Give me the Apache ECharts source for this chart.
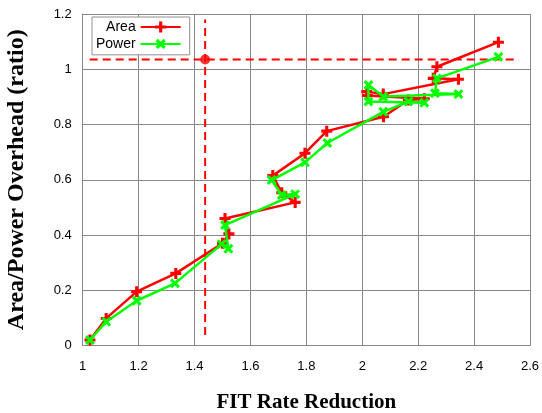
<!DOCTYPE html>
<html>
<head>
<meta charset="utf-8">
<script src="https://cdn.jsdelivr.net/npm/echarts@6/dist/echarts.min.js"></script>
<style>
  html, body { margin: 0; padding: 0; background: #fff; }
  #chart { width: 542px; height: 413px; }
</style>
</head>
<body>
<div id="chart"></div>
<script>
// FIT rate reduction vs. overhead ratio, one point per design configuration
const fitArea = [1.026, 1.084, 1.193, 1.333, 1.500, 1.523, 1.509, 1.760, 1.712, 1.680, 1.795, 1.873,
                 2.076, 2.165, 2.222, 2.018, 2.016, 2.075, 2.344, 2.254, 2.267, 2.487];
const areaOverhead = [0.020, 0.098, 0.195, 0.261, 0.370, 0.404, 0.460, 0.518, 0.553, 0.615, 0.696, 0.776,
                      0.828, 0.889, 0.893, 0.905, 0.919, 0.910, 0.964, 0.967, 1.009, 1.098];

const fitPower = [1.026, 1.084, 1.193, 1.330, 1.497, 1.521, 1.509, 1.760, 1.712, 1.676, 1.795, 1.875,
                  2.075, 2.165, 2.222, 2.022, 2.022, 2.075, 2.344, 2.260, 2.267, 2.487];
const powerOverhead = [0.020, 0.086, 0.162, 0.225, 0.367, 0.350, 0.436, 0.548, 0.545, 0.599, 0.663, 0.733,
                       0.846, 0.883, 0.879, 0.883, 0.943, 0.901, 0.910, 0.913, 0.967, 1.045];

// Reference operating point and the extent of its dashed guide lines
const refPoint = [1.438, 1.035];
const refVerticalSpan = [0.038, 1.18];
const refHorizontalSpan = [1.025, 2.56];

const xTicks = { min: 1, max: 2.6, step: 0.2 };
const yTicks = { min: 0, max: 1.2, step: 0.2 };

const plusPath = 'path://M3.6,0H6.4V3.6H10V6.4H6.4V10H3.6V6.4H0V3.6H3.6Z';

const zip = (xs, ys) => xs.map((x, i) => [x, ys[i]]);

const chart = echarts.init(document.getElementById('chart'));
chart.setOption({
  animation: false,
  backgroundColor: '#ffffff',
  grid: { left: 82.7, right: 12, top: 14, bottom: 67.5, containLabel: false, outerBoundsMode: 'none' },
  legend: {
    orient: 'vertical',
    left: 92,
    top: 17,
    align: 'right',
    padding: [3, 8, 3, 4],
    itemGap: 2,
    itemWidth: 40,
    itemHeight: 14,
    borderColor: '#909090',
    borderWidth: 1,
    backgroundColor: '#ffffff',
    textStyle: { fontFamily: 'Liberation Sans, Arial', fontSize: 14, color: '#000', width: 38, align: 'right' },
    data: ['Area', 'Power']
  },
  xAxis: {
    type: 'value',
    min: xTicks.min, max: xTicks.max, interval: xTicks.step,
    name: 'FIT Rate Reduction',
    nameLocation: 'middle',
    nameGap: 47,
    nameTextStyle: { fontFamily: 'Liberation Serif, Times New Roman', fontWeight: 'bold', fontSize: 21, color: '#000' },
    axisLine: { show: true, lineStyle: { color: '#888', width: 1 } },
    axisTick: { show: false },
    splitLine: { show: true, lineStyle: { color: '#888', width: 1 } },
    axisLabel: { fontFamily: 'Liberation Sans, Arial', fontSize: 13, color: '#000', margin: 14,
                 formatter: v => String(+v.toFixed(1)) }
  },
  yAxis: {
    type: 'value',
    min: yTicks.min, max: yTicks.max, interval: yTicks.step,
    name: 'Area/Power Overhead (ratio)',
    nameLocation: 'middle',
    nameGap: 54,
    nameTextStyle: { fontFamily: 'Liberation Serif, Times New Roman', fontWeight: 'bold', fontSize: 24, color: '#000' },
    axisLine: { show: true, lineStyle: { color: '#888', width: 1 } },
    axisTick: { show: false },
    splitLine: { show: true, lineStyle: { color: '#888', width: 1 } },
    axisLabel: { fontFamily: 'Liberation Sans, Arial', fontSize: 13, color: '#000', margin: 11,
                 formatter: v => String(+v.toFixed(1)) }
  },
  series: [
    {
      name: 'refVertical',
      type: 'line',
      data: [[refPoint[0], refVerticalSpan[0]], [refPoint[0], refVerticalSpan[1]]],
      symbol: 'none',
      lineStyle: { color: '#ff0000', width: 2, type: [8, 5] },
      silent: true, z: 1
    },
    {
      name: 'refHorizontal',
      type: 'line',
      data: [[refHorizontalSpan[0], refPoint[1]], [refHorizontalSpan[1], refPoint[1]]],
      symbol: 'none',
      lineStyle: { color: '#ff0000', width: 2, type: [8, 5] },
      silent: true, z: 1
    },
    {
      name: 'refDot',
      type: 'scatter',
      data: [refPoint],
      symbol: 'circle',
      symbolSize: 10,
      itemStyle: { color: '#ff0000' },
      silent: true, z: 3
    },
    {
      name: 'Area',
      type: 'line',
      data: zip(fitArea, areaOverhead),
      symbol: plusPath,
      symbolSize: 11,
      showAllSymbol: true,
      color: '#ff0000',
      lineStyle: { color: '#ff0000', width: 2.5 },
      itemStyle: { color: '#ff0000' },
      z: 2
    },
    {
      name: 'Power',
      type: 'line',
      data: zip(fitPower, powerOverhead),
      symbol: plusPath,
      symbolRotate: 45,
      symbolSize: 11,
      showAllSymbol: true,
      color: '#00ff00',
      lineStyle: { color: '#00ff00', width: 2.5 },
      itemStyle: { color: '#00ff00' },
      z: 3
    }
  ]
});
</script>
</body>
</html>
